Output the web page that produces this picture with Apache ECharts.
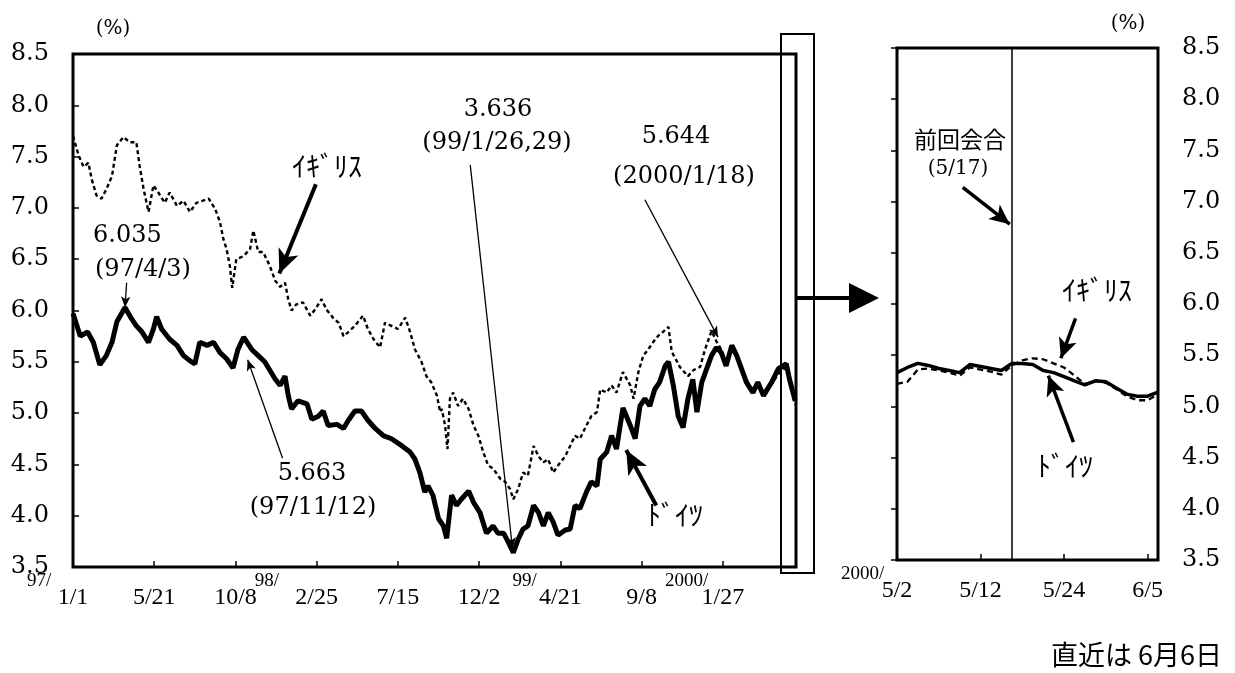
<!DOCTYPE html>
<html><head><meta charset="utf-8">
<script src="https://cdn.jsdelivr.net/npm/echarts@6/dist/echarts.min.js"></script>
<style>html,body{margin:0;padding:0;background:#fff}#c{width:1235px;height:673px}</style>
</head><body><div id="c"></div>
<script>
// ---- data (left panel: x = business-day index from 97/1/1) ----
const deIdx = [0,9,18,25,33,41,48,54,64,72,78,85,93,99,103,109,119,128,136,144,150,156,165,173,181,189,197,203,210,220,228,236,249,255,261,265,269,277,288,294,302,308,314,325,333,339,347,355,363,372,382,392,405,415,421,427,433,437,443,450,456,460,466,472,478,487,493,501,509,517,523,530,536,542,548,554,560,567,573,579,585,591,597,606,612,618,624,632,638,645,649,657,663,669,677,686,692,698,704,710,716,722,729,733,739,745,751,757,763,768,774,780,786,792,798,804,811,817,823,829,837,843,850,860,868,878,882,889];
const deVal = [5.97,5.75,5.79,5.69,5.47,5.56,5.69,5.89,6.03,5.92,5.85,5.79,5.69,5.82,5.94,5.82,5.72,5.66,5.56,5.51,5.48,5.69,5.66,5.69,5.59,5.53,5.44,5.62,5.74,5.62,5.56,5.50,5.33,5.27,5.36,5.17,5.04,5.12,5.09,4.94,4.97,5.02,4.88,4.89,4.85,4.93,5.02,5.02,4.93,4.85,4.78,4.75,4.68,4.62,4.55,4.42,4.23,4.29,4.20,3.97,3.90,3.78,4.20,4.10,4.16,4.24,4.13,4.03,3.83,3.90,3.83,3.83,3.74,3.64,3.77,3.87,3.90,4.10,4.03,3.90,4.03,3.94,3.81,3.86,3.87,4.10,4.07,4.23,4.33,4.29,4.55,4.62,4.78,4.65,5.05,4.88,4.75,5.07,5.14,5.07,5.23,5.30,5.46,5.50,5.27,4.97,4.86,5.14,5.33,5.01,5.30,5.43,5.56,5.64,5.59,5.46,5.66,5.56,5.43,5.30,5.20,5.30,5.17,5.30,5.43,5.48,5.33,5.12];
const ukIdx = [0,7,13,19,23,29,35,41,48,54,62,70,78,82,87,93,99,105,113,119,128,136,144,152,160,167,175,181,185,189,193,196,201,210,218,222,228,234,242,249,255,261,265,269,275,283,292,298,306,312,320,327,333,339,347,357,363,370,378,384,392,400,409,415,421,429,435,441,448,452,454,458,461,464,468,474,480,487,493,499,505,511,517,526,532,538,542,548,554,560,567,573,579,585,591,597,606,612,618,624,632,638,645,649,657,663,669,677,686,690,696,702,708,714,720,726,733,737,747,757,764,772,778,786,792,798,804,811,817,823,829,837,843,850,860,868,878,882,889];
const ukVal = [7.70,7.51,7.40,7.44,7.28,7.12,7.09,7.18,7.31,7.61,7.69,7.64,7.64,7.41,7.18,6.96,7.22,7.15,7.05,7.15,7.02,7.07,6.96,7.05,7.07,7.09,6.99,6.86,6.70,6.60,6.44,6.22,6.50,6.53,6.60,6.78,6.57,6.57,6.44,6.29,6.23,6.27,6.11,6.00,6.06,6.08,5.95,6.01,6.11,6.01,5.93,5.88,5.75,5.79,5.85,5.95,5.82,5.72,5.64,5.88,5.85,5.82,5.93,5.79,5.62,5.50,5.36,5.30,5.17,5.01,5.04,4.88,4.65,5.14,5.20,5.07,5.14,5.04,4.88,4.78,4.62,4.49,4.46,4.36,4.33,4.26,4.16,4.26,4.42,4.39,4.68,4.58,4.52,4.55,4.42,4.49,4.58,4.68,4.78,4.75,4.88,4.97,5.01,5.23,5.20,5.27,5.20,5.40,5.27,5.14,5.40,5.56,5.62,5.69,5.75,5.79,5.84,5.60,5.45,5.36,5.42,5.45,5.62,5.80,5.70,5.62,5.50,5.64,5.55,5.44,5.32,5.22,5.28,5.18,5.28,5.38,5.45,5.33,5.08];
const xTickDates = ['1/1','5/21','10/8','2/25','7/15','12/2','4/21','9/8','1/27'];
const xTickYears = ['97/','','','98/','','','99/','','2000/'];
// ---- data (right panel: 2000/5/2 - 6/6 business days) ----
const rDates = ['5/2','5/3','5/4','5/5','5/8','5/9','5/10','5/11','5/12','5/15','5/16','5/17','5/18','5/19','5/22','5/23','5/24','5/25','5/26','5/29','5/30','5/31','6/1','6/2','6/5','6/6'];
const rDe = [5.33,5.38,5.42,5.40,5.37,5.35,5.33,5.41,5.39,5.37,5.35,5.42,5.42,5.41,5.35,5.33,5.29,5.25,5.21,5.25,5.24,5.18,5.12,5.10,5.10,5.14];
const rUk = [5.22,5.24,5.36,5.37,5.35,5.33,5.30,5.38,5.36,5.34,5.31,5.40,5.45,5.47,5.46,5.42,5.38,5.30,5.22,5.25,5.23,5.17,5.10,5.06,5.06,5.12];

const NUM = 'DejaVu Serif', XF = 'Liberation Serif', JP = 'Noto Sans CJK JP';
const yrOffset = {0:46, 3:62, 6:48, 8:58};

const rich = {
  d: {fontFamily: XF, fontSize: 24, lineHeight: 18, align: 'center', color: '#000'},
  yn: {fontFamily: XF, fontSize: 19, lineHeight: 16, color: '#000'},
  yr: {fontFamily: XF, fontSize: 19, lineHeight: 16, align: 'left', width: 112, color: '#000'}
};
Object.keys(yrOffset).forEach(k => {
  rich['y' + k] = {fontFamily: XF, fontSize: 19, lineHeight: 16, align: 'left', width: 2 * yrOffset[k], color: '#000'};
});

function leftLabel(v) {
  const i = v / 100;
  if (!Number.isInteger(i) || i >= xTickDates.length) return '';
  const yr = xTickYears[i];
  return (yr ? '{y' + i + '|' + yr + '}' : '{yn| }') + '\n{d|' + xTickDates[i] + '}';
}
function rightLabel(v) {
  if (v % 8 !== 0 || v > 24) return '';
  return (v === 0 ? '{yr|2000/}' : '{yn| }') + '\n{d|' + rDates[v] + '}';
}

function txt(text, x, y, font, align) {
  return {type: 'text', x: x, y: y, z: 20, style: {text: text, font: font, fill: '#000',
    align: align || 'center', verticalAlign: 'middle', textAlign: align || 'center', textVerticalAlign: 'middle'}};
}

const yAxisCommon = {
  type: 'value', min: 3.5, max: 8.5, interval: 0.5,
  axisLine: {show: false}, splitLine: {show: false},
  axisTick: {show: true, inside: true, length: 6, lineStyle: {color: '#000', width: 1.5}},
  axisLabel: {fontFamily: NUM, fontSize: 24, color: '#000', margin: 24, hideOverlap: false, formatter: v => v.toFixed(1)}
};

const thin = {color: '#000', width: 1.3, type: 'solid'};
const thick = {color: '#000', width: 4, type: 'solid'};

const option = {
  animation: false,
  backgroundColor: '#fff',
  grid: [
    {left: 73, top: 54, width: 723, height: 513, show: true, borderColor: '#000', borderWidth: 3, backgroundColor: 'transparent'},
    {left: 897, top: 48, width: 261, height: 512, show: true, borderColor: '#000', borderWidth: 3, backgroundColor: 'transparent'}
  ],
  xAxis: [
    {type: 'value', gridIndex: 0, min: 0, max: 890, interval: 100,
     axisLine: {show: false}, splitLine: {show: false},
     axisTick: {inside: true, length: 6, lineStyle: {color: '#000', width: 1.5}},
     axisLabel: {margin: 6, hideOverlap: false, showMinLabel: true, showMaxLabel: true, formatter: leftLabel, rich: rich}},
    {type: 'value', gridIndex: 1, min: 0, max: 25, interval: 8,
     axisLine: {show: false}, splitLine: {show: false},
     axisTick: {inside: true, length: 6, lineStyle: {color: '#000', width: 1.5}},
     axisLabel: {margin: 6, hideOverlap: false, showMinLabel: true, showMaxLabel: true, formatter: rightLabel, rich: rich}}
  ],
  yAxis: [
    Object.assign({gridIndex: 0, position: 'left'}, yAxisCommon),
    Object.assign({gridIndex: 1, position: 'right'}, yAxisCommon)
  ],
  series: [
    {name: 'イギリス', type: 'line', xAxisIndex: 0, yAxisIndex: 0, showSymbol: false, silent: true, z: 3,
     data: ukIdx.map((x, i) => [x, ukVal[i]]),
     lineStyle: {color: '#000', width: 2.4, type: [4, 3]},
     markLine: {silent: true, symbol: ['none', 'arrow'], symbolSize: [7, 11], label: {show: false}, lineStyle: thin,
       emphasis: {disabled: true},
       data: [
         [{coord: [66, 6.27]}, {coord: [64, 6.03]}],
         [{coord: [258, 4.56]}, {coord: [215, 5.52]}],
         [{coord: [489, 7.42]}, {coord: [541, 3.68]}],
         [{coord: [704, 7.08]}, {coord: [794, 5.74]}]
       ]}},
    {name: 'ドイツ', type: 'line', xAxisIndex: 0, yAxisIndex: 0, showSymbol: false, silent: true, z: 4,
     data: deIdx.map((x, i) => [x, deVal[i]]),
     lineStyle: {color: '#000', width: 5},
     markLine: {silent: true, symbol: ['none', 'arrow'], symbolSize: [16, 24], label: {show: false}, lineStyle: thick,
       emphasis: {disabled: true},
       data: [
         [{coord: [299, 7.23]}, {coord: [254, 6.36]}],
         [{coord: [718, 4.10]}, {coord: [681, 4.64]}]
       ]}},
    {name: 'イギリス(直近)', type: 'line', xAxisIndex: 1, yAxisIndex: 1, showSymbol: false, silent: true, z: 3,
     data: rUk.map((v, i) => [i, v]),
     lineStyle: {color: '#000', width: 2.3, type: [6, 4]},
     markLine: {silent: true, symbol: ['none', 'none'], label: {show: false}, lineStyle: {color: '#000', width: 1.5, type: 'solid'},
       emphasis: {disabled: true},
       data: [{xAxis: 11}]}},
    {name: 'ドイツ(直近)', type: 'line', xAxisIndex: 1, yAxisIndex: 1, showSymbol: false, silent: true, z: 4,
     data: rDe.map((v, i) => [i, v]),
     lineStyle: {color: '#000', width: 3.5},
     markLine: {silent: true, symbol: ['none', 'arrow'], symbolSize: [14, 20], label: {show: false}, lineStyle: {color: '#000', width: 3.5, type: 'solid'},
       emphasis: {disabled: true},
       data: [
         [{coord: [6.3, 7.14]}, {coord: [10.8, 6.78]}],
         [{coord: [17.1, 5.86]}, {coord: [15.7, 5.47]}],
         [{coord: [16.9, 4.65]}, {coord: [14.5, 5.30]}]
       ]}}
  ],
  graphic: [
    {type: 'rect', z: 10, shape: {x: 781, y: 34, width: 33, height: 539}, style: {fill: 'none', stroke: '#000', lineWidth: 2}},
    {type: 'line', z: 10, shape: {x1: 796, y1: 298, x2: 852, y2: 298}, style: {stroke: '#000', lineWidth: 4}},
    {type: 'polygon', z: 10, shape: {points: [[849, 283], [879, 298], [849, 313]]}, style: {fill: '#000'}},
    txt('(%)', 113, 29, '20px "' + NUM + '"'),
    txt('(%)', 1128, 24, '20px "' + NUM + '"'),
    txt('6.035', 93, 236, '24px "' + NUM + '"', 'left'),
    txt('(97/4/3)', 95, 270, '24px "' + NUM + '"', 'left'),
    txt('5.663', 312, 474, '24px "' + NUM + '"'),
    txt('(97/11/12)', 313, 508, '24px "' + NUM + '"'),
    txt('3.636', 498, 110, '24px "' + NUM + '"'),
    txt('(99/1/26,29)', 497, 143, '24px "' + NUM + '"'),
    txt('5.644', 676, 137, '24px "' + NUM + '"'),
    txt('(2000/1/18)', 684, 177, '24px "' + NUM + '"'),
    txt('ｲｷﾞﾘｽ', 327, 166, '28px "' + JP + '"'),
    txt('ﾄﾞｲﾂ', 675, 515, '28px "' + JP + '"'),
    txt('前回会合', 960, 139, '23px "' + JP + '"'),
    txt('(5/17)', 958, 169, '20px "' + NUM + '"'),
    txt('ｲｷﾞﾘｽ', 1097, 290, '28px "' + JP + '"'),
    txt('ﾄﾞｲﾂ', 1065, 466, '28px "' + JP + '"'),
    txt('直近は 6月6日', 1222, 655, '27px "' + JP + '"', 'right')
  ]
};

const chart = echarts.init(document.getElementById('c'), null, {renderer: 'canvas'});
chart.setOption(option);
</script>
</body></html>
